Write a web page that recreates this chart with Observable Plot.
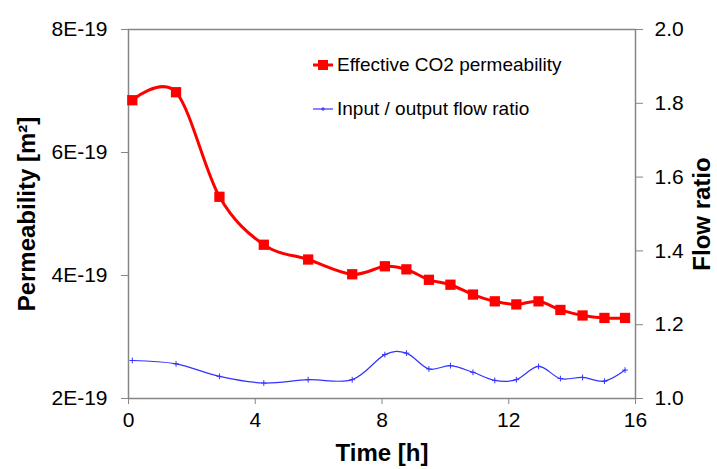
<!DOCTYPE html>
<html>
<head>
<meta charset="utf-8">
<script src="https://cdn.jsdelivr.net/npm/d3@7"></script>
<script src="https://cdn.jsdelivr.net/npm/@observablehq/plot@0.6"></script>
<style>
  html, body { margin: 0; padding: 0; background: #fff; }
  #wrap { position: relative; width: 717px; height: 469px; font-family: "Liberation Sans", Arial, sans-serif; }
  #legend { position: absolute; left: 312px; top: 52px; font-size: 19px; color: #000; }
  #legend .row { display: flex; align-items: center; height: 25px; margin-bottom: 19px; }
  #legend svg { margin-right: 3px; }
</style>
</head>
<body>
<div id="wrap">
  <div id="chart"></div>
  <div id="legend"></div>
</div>
<script>
// ---- data ----
const time = [0.12, 1.5, 2.87, 4.27, 5.67, 7.06, 8.09, 8.77, 9.48, 10.16, 10.87, 11.56, 12.24, 12.94, 13.63, 14.33, 15.02, 15.67];
const permeability = [6.85e-19, 6.98e-19, 5.28e-19, 4.50e-19, 4.26e-19, 4.02e-19, 4.15e-19, 4.10e-19, 3.93e-19, 3.85e-19, 3.69e-19, 3.58e-19, 3.53e-19, 3.58e-19, 3.44e-19, 3.35e-19, 3.31e-19, 3.31e-19];
const flowRatio = [1.103, 1.094, 1.060, 1.042, 1.051, 1.051, 1.119, 1.123, 1.080, 1.089, 1.071, 1.049, 1.051, 1.087, 1.054, 1.057, 1.047, 1.077];
const timeTicks = [0, 4, 8, 12, 16];
const permTicks = [2e-19, 4e-19, 6e-19, 8e-19];
const ratioTicks = [1.0, 1.2, 1.4, 1.6, 1.8, 2.0];
const seriesNames = ["Effective CO2 permeability", "Input / output flow ratio"];

// ---- secondary axis mapping (ratio 1.0..2.0 onto permeability 2E-19..8E-19) ----
const pMin = 2e-19, pMax = 8e-19, rMin = 1.0, rMax = 2.0;
const r2p = r => pMin + (r - rMin) / (rMax - rMin) * (pMax - pMin);
const p2r = p => rMin + (p - pMin) / (pMax - pMin) * (rMax - rMin);

const permData = time.map((t, i) => ({t, v: permeability[i]}));
const ratioData = time.map((t, i) => ({t, v: r2p(flowRatio[i])}));

const red = "#ff0000", blue = "#3333ff", axisGray = "#868686";

const chart = Plot.plot({
  width: 717,
  height: 469,
  marginLeft: 128,
  marginRight: 82,
  marginTop: 29,
  marginBottom: 71,
  style: {fontFamily: "'Liberation Sans', Arial, sans-serif", color: "#000", background: "#fff", overflow: "visible"},
  x: {domain: [0, 16]},
  y: {domain: [pMin, pMax]},
  marks: [
    Plot.frame({stroke: axisGray, strokeWidth: 1.5}),
    Plot.axisX({
      ticks: timeTicks, tickSize: 6, tickPadding: 8, fontSize: 21, stroke: axisGray,
      label: "Time [h]", labelAnchor: "center", labelArrow: "none", labelOffset: 62
    }),
    Plot.axisY({
      anchor: "left", ticks: permTicks, tickSize: 7, tickPadding: 14, fontSize: 21, stroke: axisGray,
      tickFormat: d => `${Math.round(d * 1e19)}E-19`,
      label: "Permeability [m²]", labelAnchor: "center", labelArrow: "none", labelOffset: 111
    }),
    Plot.axisY({
      anchor: "right", ticks: ratioTicks.map(r2p), tickSize: 7, tickPadding: 12, fontSize: 21, stroke: axisGray,
      tickFormat: d => p2r(d).toFixed(1),
      label: "Flow ratio", labelAnchor: "center", labelArrow: "none", labelOffset: 74
    }),
    Plot.line(ratioData, {x: "t", y: "v", stroke: blue, strokeWidth: 1.2, curve: "cardinal", tension: 0}),
    Plot.dot(ratioData, {x: "t", y: "v", symbol: "plus", r: 2, stroke: blue, strokeWidth: 1}),
    Plot.line(permData, {x: "t", y: "v", stroke: red, strokeWidth: 3, curve: "cardinal", tension: 0}),
    Plot.dot(permData, {x: "t", y: "v", symbol: "square", r: 5.8, fill: red, stroke: "none"})
  ]
});
// bold axis titles
chart.querySelectorAll("g[aria-label='x-axis label'] text, g[aria-label='y-axis label'] text").forEach(t => {
  t.setAttribute("font-weight", "bold");
  t.setAttribute("font-size", "24");
});
document.getElementById("chart").appendChild(chart);

// legend
const legend = document.getElementById("legend");
[[red, 3, "square"], [blue, 1.2, "plus"]].forEach(([c, w, sym], i) => {
  const row = document.createElement("div");
  row.className = "row";
  const marker = sym === "square"
    ? `<rect x="6" y="7" width="10" height="10" fill="${c}"/>`
    : `<path d="M9 12h4M11 10v4" stroke="${c}" stroke-width="1"/>`;
  row.innerHTML = `<svg width="22" height="24"><line x1="1" x2="21" y1="12" y2="12" stroke="${c}" stroke-width="${w}"/>${marker}</svg><span>${seriesNames[i]}</span>`;
  legend.appendChild(row);
});
</script>
</body>
</html>
